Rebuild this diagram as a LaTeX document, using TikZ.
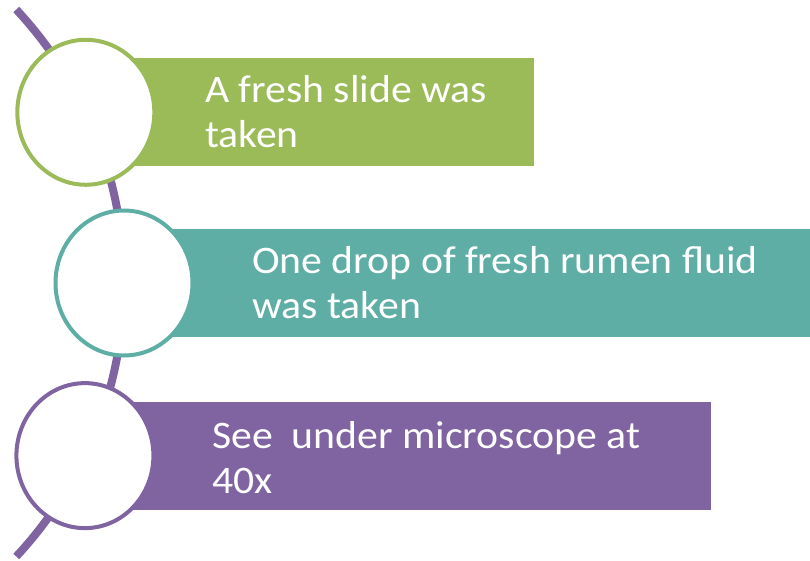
\documentclass[tikz,border=0pt]{standalone}
\usepackage{fontspec}
\setmainfont[FakeStretch=1.07]{Carlito}
\usetikzlibrary{shapes.geometric}
\definecolor{stepgreen}{HTML}{9BBB59}
\definecolor{stepteal}{HTML}{5EAEA6}
\definecolor{steppurple}{HTML}{8064A2}
\begin{document}
\begin{tikzpicture}[x=1pt, y=-1pt,
    spine/.style={steppurple, line width=8pt},
    ring/.style={ellipse, fill=white, line width=4pt, minimum width=137pt,
      minimum height=145pt, inner sep=0pt},
    steptext/.style={text=white, align=left, inner sep=0pt,
      font=\fontsize{39}{45}\selectfont}]
  \useasboundingbox (0,0) rectangle (810,560);
  \coordinate (hub) at (-277,283);
  \draw[spine] (hub) ++(43:401pt) coordinate (spinetop)
    arc[start angle=43, end angle=-43, radius=401pt] coordinate (spinebot);
  \foreach \i/\ang/\col/\bx/\tx/\ty/\txt in {
      1/25.2/stepgreen/534/119/-35/{A fresh slide was\\taken},
      2/0/stepteal/810/128/-35/{One drop of fresh rumen fluid\\was taken},
      3/-25.5/steppurple/711/127/-38/{See\ \ under microscope at\\40x}} {
    \coordinate (c\i) at ([shift={(\ang:401pt)}]hub);
    \coordinate (bt\i) at ([yshift=54pt]c\i);
    \coordinate (bb\i) at ([yshift=-54pt]c\i);
    \fill[\col] (bt\i) rectangle (bb\i -| \bx,0);
    \node[ring, draw=\col] (r\i) at (c\i) {};
    \node[steptext, anchor=base west] (t\i) at ([shift={(\tx pt,\ty pt)}]c\i) {\txt};
  }
\end{tikzpicture}
\end{document}
